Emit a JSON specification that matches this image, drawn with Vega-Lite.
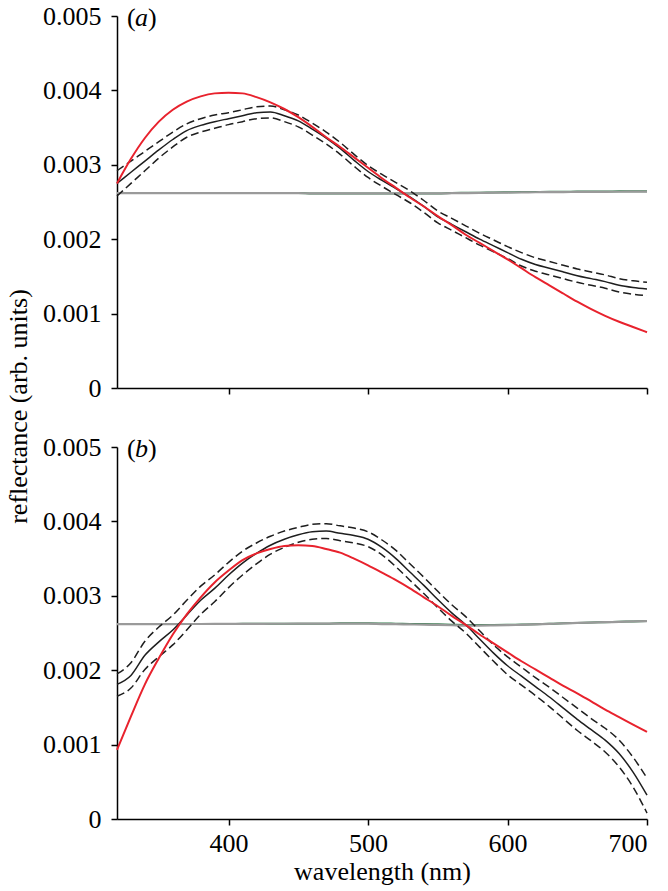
{
  "$schema": "https://vega.github.io/schema/vega-lite/v6.json",
  "padding": {"left": 5, "top": 3, "right": 0, "bottom": 5},
  "background": "white",
  "bounds": "flush",
  "spacing": 59,
  "config": {
    "font": "Liberation Serif, Times New Roman, serif",
    "view": {"stroke": null},
    "style": {
      "guide-label": {"font": "Liberation Serif, Times New Roman, serif", "fontSize": 26, "fill": "#000000"},
      "guide-title": {"font": "Liberation Serif, Times New Roman, serif", "fontSize": 26, "fill": "#000000", "fontWeight": "normal"}
    },
    "axis": {
      "labelFont": "Liberation Serif, Times New Roman, serif",
      "titleFont": "Liberation Serif, Times New Roman, serif",
      "labelFontSize": 26,
      "titleFontSize": 26,
      "titleFontWeight": "normal",
      "labelColor": "#000000",
      "titleColor": "#000000",
      "domainColor": "#000000",
      "tickColor": "#000000",
      "domainWidth": 1.5,
      "tickWidth": 1.5,
      "tickSize": 6,
      "grid": false,
      "labelPadding": 5
    },
    "axisY": {"labelPadding": 10},
    "line": {"interpolate": "monotone"},
    "text": {"font": "Liberation Serif, Times New Roman, serif", "fontSize": 26, "color": "#000000"}
  },
  "datasets": {
    "a": [
      {"wl": 320, "model": 0.00275, "mean": 0.00275, "upper": 0.00292, "lower": 0.00258, "gray": 0.00262, "green": 0.00262},
      {"wl": 330, "model": 0.00308, "mean": 0.00290, "upper": 0.00305, "lower": 0.00275, "gray": 0.00262, "green": 0.00262},
      {"wl": 340, "model": 0.00336, "mean": 0.00305, "upper": 0.00318, "lower": 0.00292, "gray": 0.00262, "green": 0.00262},
      {"wl": 350, "model": 0.00358, "mean": 0.00320, "upper": 0.00331, "lower": 0.00309, "gray": 0.00262, "green": 0.00262},
      {"wl": 360, "model": 0.00374, "mean": 0.00334, "upper": 0.00344, "lower": 0.00324, "gray": 0.00262, "green": 0.00262},
      {"wl": 370, "model": 0.00385, "mean": 0.00346, "upper": 0.00355, "lower": 0.00337, "gray": 0.00262, "green": 0.00262},
      {"wl": 380, "model": 0.00392, "mean": 0.00353, "upper": 0.00362, "lower": 0.00344, "gray": 0.00262, "green": 0.00262},
      {"wl": 390, "model": 0.00396, "mean": 0.00358, "upper": 0.00367, "lower": 0.00349, "gray": 0.00262, "green": 0.00262},
      {"wl": 400, "model": 0.00397, "mean": 0.00362, "upper": 0.00370, "lower": 0.00354, "gray": 0.00262, "green": 0.00262},
      {"wl": 410, "model": 0.00396, "mean": 0.00366, "upper": 0.00374, "lower": 0.00358, "gray": 0.00262, "green": 0.00262},
      {"wl": 420, "model": 0.00391, "mean": 0.00370, "upper": 0.00378, "lower": 0.00362, "gray": 0.00262, "green": 0.00262},
      {"wl": 430, "model": 0.00384, "mean": 0.00371, "upper": 0.00379, "lower": 0.00363, "gray": 0.00262, "green": 0.00262},
      {"wl": 440, "model": 0.00375, "mean": 0.00366, "upper": 0.00374, "lower": 0.00358, "gray": 0.00262, "green": 0.00262},
      {"wl": 450, "model": 0.00364, "mean": 0.00359, "upper": 0.00367, "lower": 0.00351, "gray": 0.00262, "green": 0.00262},
      {"wl": 460, "model": 0.00351, "mean": 0.00348, "upper": 0.00356, "lower": 0.00340, "gray": 0.002615, "green": 0.002615},
      {"wl": 470, "model": 0.00337, "mean": 0.00336, "upper": 0.00344, "lower": 0.00328, "gray": 0.002615, "green": 0.002615},
      {"wl": 480, "model": 0.00324, "mean": 0.00322, "upper": 0.00330, "lower": 0.00314, "gray": 0.002615, "green": 0.002615},
      {"wl": 490, "model": 0.00310, "mean": 0.00306, "upper": 0.00314, "lower": 0.00298, "gray": 0.002615, "green": 0.002615},
      {"wl": 500, "model": 0.00296, "mean": 0.00291, "upper": 0.00299, "lower": 0.00283, "gray": 0.002615, "green": 0.002615},
      {"wl": 510, "model": 0.00282, "mean": 0.00279, "upper": 0.00287, "lower": 0.00271, "gray": 0.002615, "green": 0.002615},
      {"wl": 520, "model": 0.00269, "mean": 0.00268, "upper": 0.00276, "lower": 0.00260, "gray": 0.002615, "green": 0.002615},
      {"wl": 530, "model": 0.00256, "mean": 0.00257, "upper": 0.00265, "lower": 0.00249, "gray": 0.002615, "green": 0.002615},
      {"wl": 540, "model": 0.00244, "mean": 0.00244, "upper": 0.00252, "lower": 0.00236, "gray": 0.002615, "green": 0.002615},
      {"wl": 550, "model": 0.00231, "mean": 0.00230, "upper": 0.00238, "lower": 0.00222, "gray": 0.002615, "green": 0.002615},
      {"wl": 560, "model": 0.00219, "mean": 0.00220, "upper": 0.00228, "lower": 0.00212, "gray": 0.002618, "green": 0.002622},
      {"wl": 570, "model": 0.00206, "mean": 0.00210, "upper": 0.00218, "lower": 0.00202, "gray": 0.002620, "green": 0.002624},
      {"wl": 580, "model": 0.00195, "mean": 0.00200, "upper": 0.00208, "lower": 0.00192, "gray": 0.002622, "green": 0.002626},
      {"wl": 590, "model": 0.00184, "mean": 0.00191, "upper": 0.00199, "lower": 0.00183, "gray": 0.002625, "green": 0.002629},
      {"wl": 600, "model": 0.00173, "mean": 0.00182, "upper": 0.00190, "lower": 0.00174, "gray": 0.002627, "green": 0.002631},
      {"wl": 610, "model": 0.00161, "mean": 0.00173, "upper": 0.00182, "lower": 0.00164, "gray": 0.002629, "green": 0.002633},
      {"wl": 620, "model": 0.00149, "mean": 0.00166, "upper": 0.00175, "lower": 0.00157, "gray": 0.002631, "green": 0.002635},
      {"wl": 630, "model": 0.00138, "mean": 0.00161, "upper": 0.00170, "lower": 0.00152, "gray": 0.002633, "green": 0.002637},
      {"wl": 640, "model": 0.00127, "mean": 0.00156, "upper": 0.00165, "lower": 0.00147, "gray": 0.002634, "green": 0.002638},
      {"wl": 650, "model": 0.00116, "mean": 0.00151, "upper": 0.00160, "lower": 0.00142, "gray": 0.002635, "green": 0.002640},
      {"wl": 660, "model": 0.00106, "mean": 0.00147, "upper": 0.00156, "lower": 0.00138, "gray": 0.002636, "green": 0.002641},
      {"wl": 670, "model": 0.00097, "mean": 0.00143, "upper": 0.00152, "lower": 0.00134, "gray": 0.002637, "green": 0.002642},
      {"wl": 680, "model": 0.00089, "mean": 0.00138, "upper": 0.00147, "lower": 0.00129, "gray": 0.002638, "green": 0.002643},
      {"wl": 690, "model": 0.00082, "mean": 0.00135, "upper": 0.00144, "lower": 0.00126, "gray": 0.002639, "green": 0.002644},
      {"wl": 700, "model": 0.00075, "mean": 0.00133, "upper": 0.00142, "lower": 0.00124, "gray": 0.002640, "green": 0.002645}
    ],
    "b": [
      {"wl": 320, "model": 0.00093, "mean": 0.00181, "upper": 0.00195, "lower": 0.00165, "gray": 0.002620, "green": 0.002620},
      {"wl": 330, "model": 0.00138, "mean": 0.00193, "upper": 0.00210, "lower": 0.00176, "gray": 0.002620, "green": 0.002620},
      {"wl": 340, "model": 0.00181, "mean": 0.00220, "upper": 0.00239, "lower": 0.00201, "gray": 0.002620, "green": 0.002620},
      {"wl": 350, "model": 0.00216, "mean": 0.00238, "upper": 0.00258, "lower": 0.00218, "gray": 0.002620, "green": 0.002620},
      {"wl": 360, "model": 0.00248, "mean": 0.00254, "upper": 0.00274, "lower": 0.00234, "gray": 0.002620, "green": 0.002620},
      {"wl": 370, "model": 0.00275, "mean": 0.00274, "upper": 0.00294, "lower": 0.00254, "gray": 0.002621, "green": 0.002621},
      {"wl": 380, "model": 0.00298, "mean": 0.00294, "upper": 0.00313, "lower": 0.00275, "gray": 0.002621, "green": 0.002621},
      {"wl": 390, "model": 0.00318, "mean": 0.00310, "upper": 0.00328, "lower": 0.00292, "gray": 0.002622, "green": 0.002622},
      {"wl": 400, "model": 0.00334, "mean": 0.00328, "upper": 0.00345, "lower": 0.00311, "gray": 0.002622, "green": 0.002622},
      {"wl": 410, "model": 0.00348, "mean": 0.00344, "upper": 0.00360, "lower": 0.00328, "gray": 0.002623, "green": 0.002623},
      {"wl": 420, "model": 0.00357, "mean": 0.00357, "upper": 0.00371, "lower": 0.00343, "gray": 0.002623, "green": 0.002623},
      {"wl": 430, "model": 0.00363, "mean": 0.00368, "upper": 0.00380, "lower": 0.00356, "gray": 0.002624, "green": 0.002624},
      {"wl": 440, "model": 0.00367, "mean": 0.00376, "upper": 0.00387, "lower": 0.00365, "gray": 0.002624, "green": 0.002624},
      {"wl": 450, "model": 0.00368, "mean": 0.00382, "upper": 0.00392, "lower": 0.00372, "gray": 0.002625, "green": 0.002625},
      {"wl": 460, "model": 0.00367, "mean": 0.00386, "upper": 0.00396, "lower": 0.00376, "gray": 0.002625, "green": 0.002625},
      {"wl": 470, "model": 0.00363, "mean": 0.00387, "upper": 0.00397, "lower": 0.00377, "gray": 0.002625, "green": 0.002625},
      {"wl": 480, "model": 0.00358, "mean": 0.00384, "upper": 0.00394, "lower": 0.00374, "gray": 0.002625, "green": 0.002630},
      {"wl": 490, "model": 0.00350, "mean": 0.00381, "upper": 0.00391, "lower": 0.00371, "gray": 0.002625, "green": 0.002630},
      {"wl": 500, "model": 0.00341, "mean": 0.00376, "upper": 0.00386, "lower": 0.00366, "gray": 0.002625, "green": 0.002630},
      {"wl": 510, "model": 0.00331, "mean": 0.00365, "upper": 0.00375, "lower": 0.00355, "gray": 0.002620, "green": 0.002628},
      {"wl": 520, "model": 0.00321, "mean": 0.00350, "upper": 0.00361, "lower": 0.00339, "gray": 0.002618, "green": 0.002625},
      {"wl": 530, "model": 0.00310, "mean": 0.00332, "upper": 0.00343, "lower": 0.00321, "gray": 0.002615, "green": 0.002622},
      {"wl": 540, "model": 0.00298, "mean": 0.00314, "upper": 0.00325, "lower": 0.00303, "gray": 0.002612, "green": 0.002620},
      {"wl": 550, "model": 0.00286, "mean": 0.00295, "upper": 0.00306, "lower": 0.00284, "gray": 0.002608, "green": 0.002616},
      {"wl": 560, "model": 0.00273, "mean": 0.00277, "upper": 0.00288, "lower": 0.00266, "gray": 0.002604, "green": 0.002612},
      {"wl": 570, "model": 0.00261, "mean": 0.00261, "upper": 0.00272, "lower": 0.00250, "gray": 0.002600, "green": 0.002608},
      {"wl": 580, "model": 0.00248, "mean": 0.00242, "upper": 0.00253, "lower": 0.00231, "gray": 0.002600, "green": 0.002606},
      {"wl": 590, "model": 0.00236, "mean": 0.00223, "upper": 0.00234, "lower": 0.00212, "gray": 0.002602, "green": 0.002607},
      {"wl": 600, "model": 0.00224, "mean": 0.00206, "upper": 0.00218, "lower": 0.00194, "gray": 0.002605, "green": 0.002610},
      {"wl": 610, "model": 0.00212, "mean": 0.00192, "upper": 0.00204, "lower": 0.00180, "gray": 0.002610, "green": 0.002614},
      {"wl": 620, "model": 0.00201, "mean": 0.00178, "upper": 0.00190, "lower": 0.00166, "gray": 0.002615, "green": 0.002618},
      {"wl": 630, "model": 0.00190, "mean": 0.00164, "upper": 0.00177, "lower": 0.00151, "gray": 0.002622, "green": 0.002624},
      {"wl": 640, "model": 0.00179, "mean": 0.00149, "upper": 0.00163, "lower": 0.00135, "gray": 0.002630, "green": 0.002631},
      {"wl": 650, "model": 0.00169, "mean": 0.00134, "upper": 0.00149, "lower": 0.00119, "gray": 0.002635, "green": 0.002636},
      {"wl": 660, "model": 0.00158, "mean": 0.00120, "upper": 0.00135, "lower": 0.00105, "gray": 0.002640, "green": 0.002641},
      {"wl": 670, "model": 0.00147, "mean": 0.00106, "upper": 0.00122, "lower": 0.00090, "gray": 0.002645, "green": 0.002646},
      {"wl": 680, "model": 0.00137, "mean": 0.00088, "upper": 0.00106, "lower": 0.00070, "gray": 0.002650, "green": 0.002651},
      {"wl": 690, "model": 0.00127, "mean": 0.00063, "upper": 0.00083, "lower": 0.00043, "gray": 0.002655, "green": 0.002656},
      {"wl": 700, "model": 0.00117, "mean": 0.00032, "upper": 0.00055, "lower": 0.00008, "gray": 0.002660, "green": 0.002661}
    ]
  },
  "vconcat": [
    {
      "width": 530,
      "height": 372,
      "data": {"name": "a"},
      "encoding": {
        "x": {
          "field": "wl",
          "type": "quantitative",
          "scale": {"domain": [320, 700], "nice": false, "zero": false},
          "axis": {"values": [400, 500, 600, 700], "labels": false, "title": null}
        },
        "y": {
          "field": "r",
          "type": "quantitative",
          "scale": {"domain": [0, 0.005], "nice": false},
          "axis": {
            "values": [0, 0.001, 0.002, 0.003, 0.004, 0.005],
            "format": ".3~f",
            "labelFont": "Liberation Serif, Times New Roman, serif",
            "titleFont": "Liberation Serif, Times New Roman, serif",
            "title": "reflectance (arb. units)",
            "titleX": -86,
            "titleY": 390
          }
        }
      },
      "layer": [
        {
          "transform": [{"fold": ["green"], "as": ["series", "r"]}],
          "mark": {"type": "line", "color": "#2f7d4a", "strokeWidth": 2}
        },
        {
          "transform": [{"fold": ["gray"], "as": ["series", "r"]}],
          "mark": {"type": "line", "color": "#9a9a9a", "strokeWidth": 2.2}
        },
        {
          "transform": [{"fold": ["upper", "lower"], "as": ["series", "r"]}],
          "mark": {"type": "line", "color": "#1e1e1e", "strokeWidth": 1.5, "strokeDash": [8, 4]},
          "encoding": {"detail": {"field": "series"}}
        },
        {
          "transform": [{"fold": ["mean"], "as": ["series", "r"]}],
          "mark": {"type": "line", "color": "#1e1e1e", "strokeWidth": 1.5}
        },
        {
          "transform": [{"fold": ["model"], "as": ["series", "r"]}],
          "mark": {"type": "line", "color": "#e8222d", "strokeWidth": 2}
        },
        {
          "data": {"values": [{"glyph": "(", "wl": 320, "r": 0.005}]},
          "mark": {"type": "text", "align": "left", "baseline": "alphabetic", "dx": 10, "dy": 10},
          "encoding": {"text": {"field": "glyph"}}
        },
        {
          "data": {"values": [{"glyph": "a", "wl": 320, "r": 0.005}]},
          "mark": {"type": "text", "align": "left", "baseline": "alphabetic", "dx": 18, "dy": 10, "fontStyle": "italic"},
          "encoding": {"text": {"field": "glyph"}}
        },
        {
          "data": {"values": [{"glyph": ")", "wl": 320, "r": 0.005}]},
          "mark": {"type": "text", "align": "left", "baseline": "alphabetic", "dx": 31, "dy": 10},
          "encoding": {"text": {"field": "glyph"}}
        }
      ]
    },
    {
      "width": 530,
      "height": 372,
      "data": {"name": "b"},
      "encoding": {
        "x": {
          "field": "wl",
          "type": "quantitative",
          "scale": {"domain": [320, 700], "nice": false, "zero": false},
          "axis": {
            "values": [400, 500, 600, 700],
            "labelFont": "Liberation Serif, Times New Roman, serif",
            "titleFont": "Liberation Serif, Times New Roman, serif",
            "title": "wavelength (nm)",
            "titlePadding": 2
          }
        },
        "y": {
          "field": "r",
          "type": "quantitative",
          "scale": {"domain": [0, 0.005], "nice": false},
          "axis": {
            "values": [0, 0.001, 0.002, 0.003, 0.004, 0.005],
            "format": ".3~f",
            "labelFont": "Liberation Serif, Times New Roman, serif",
            "title": null
          }
        }
      },
      "layer": [
        {
          "transform": [{"fold": ["green"], "as": ["series", "r"]}],
          "mark": {"type": "line", "color": "#2f7d4a", "strokeWidth": 2}
        },
        {
          "transform": [{"fold": ["gray"], "as": ["series", "r"]}],
          "mark": {"type": "line", "color": "#9a9a9a", "strokeWidth": 2.2}
        },
        {
          "transform": [{"fold": ["upper", "lower"], "as": ["series", "r"]}],
          "mark": {"type": "line", "color": "#1e1e1e", "strokeWidth": 1.5, "strokeDash": [8, 4]},
          "encoding": {"detail": {"field": "series"}}
        },
        {
          "transform": [{"fold": ["mean"], "as": ["series", "r"]}],
          "mark": {"type": "line", "color": "#1e1e1e", "strokeWidth": 1.5}
        },
        {
          "transform": [{"fold": ["model"], "as": ["series", "r"]}],
          "mark": {"type": "line", "color": "#e8222d", "strokeWidth": 2}
        },
        {
          "data": {"values": [{"glyph": "(", "wl": 320, "r": 0.005}]},
          "mark": {"type": "text", "align": "left", "baseline": "alphabetic", "dx": 10, "dy": 10},
          "encoding": {"text": {"field": "glyph"}}
        },
        {
          "data": {"values": [{"glyph": "b", "wl": 320, "r": 0.005}]},
          "mark": {"type": "text", "align": "left", "baseline": "alphabetic", "dx": 18, "dy": 10, "fontStyle": "italic"},
          "encoding": {"text": {"field": "glyph"}}
        },
        {
          "data": {"values": [{"glyph": ")", "wl": 320, "r": 0.005}]},
          "mark": {"type": "text", "align": "left", "baseline": "alphabetic", "dx": 31, "dy": 10},
          "encoding": {"text": {"field": "glyph"}}
        }
      ]
    }
  ]
}
